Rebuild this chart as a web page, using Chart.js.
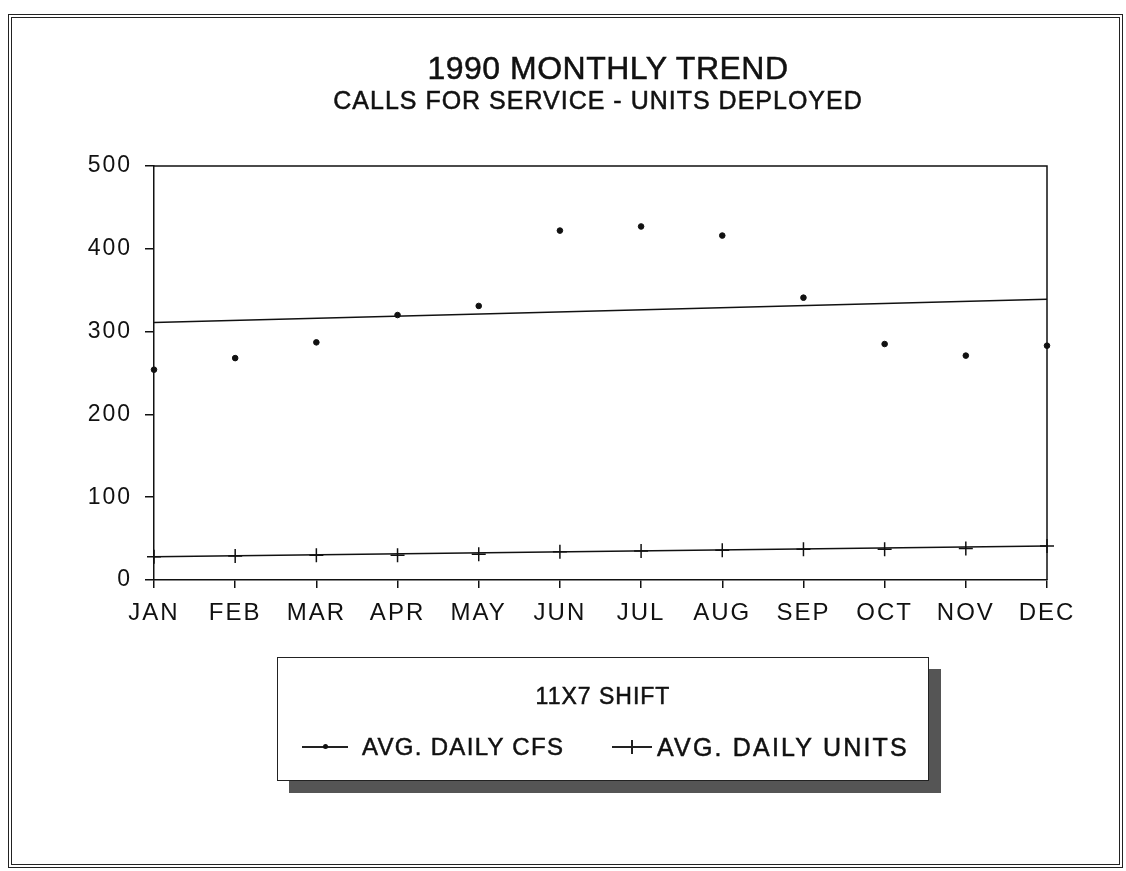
<!DOCTYPE html>
<html>
<head>
<meta charset="utf-8">
<script src="https://cdn.jsdelivr.net/npm/chart.js@4.4.1/dist/chart.umd.min.js"></script>
<style>
  html, body { margin: 0; padding: 0; background: #fff; }
  body { width: 1126px; height: 871px; position: relative; overflow: hidden; font-family: "Liberation Sans", Arial, sans-serif; color: #111; }
  #frame { position: absolute; left: 8px; top: 14px; width: 1107px; height: 846px; border: 4px double #222; }
  #chartWrap { position: absolute; left: 0; top: 0; width: 1126px; height: 871px; }
  .t { position: absolute; white-space: nowrap; -webkit-text-stroke: 0.5px #111; }
  #title { left: 0; width: 1216px; top: 50px; text-align: center; font-size: 32px; letter-spacing: 0.5px; }
  #subtitle { left: 0; width: 1196px; top: 86px; text-align: center; font-size: 25px; letter-spacing: 1px; }
  #legend { position: absolute; left: 277px; top: 657px; width: 650px; height: 122px; border: 1.5px solid #222; background: #fff; box-shadow: 12px 12px 0 #555; }
  #legTitle { left: 0; width: 650px; top: 25px; text-align: center; font-size: 23px; letter-spacing: 1px; }
  .lab { font-size: 24px; letter-spacing: 1.3px; top: 75px; }
  .sw { position: absolute; height: 1.5px; background: #222; top: 88px; }
  .dot { position: absolute; width: 5px; height: 5px; border-radius: 50%; background: #111; top: 86px; }
  .vbar { position: absolute; width: 1.5px; height: 14px; background: #222; top: 82px; }
</style>
</head>
<body>
<div id="frame"></div>
<div id="chartWrap"><canvas id="c" width="1126" height="871"></canvas></div>
<div class="t" id="title">1990 MONTHLY TREND</div>
<div class="t" id="subtitle">CALLS FOR SERVICE - UNITS DEPLOYED</div>
<div id="legend">
  <div class="t" id="legTitle">11X7 SHIFT</div>
  <div class="sw" style="left:24px;width:46px;"></div>
  <div class="dot" style="left:45px;"></div>
  <div class="t lab" style="left:84px;">AVG. DAILY CFS</div>
  <div class="sw" style="left:334px;width:40px;"></div>
  <div class="vbar" style="left:353px;"></div>
  <div class="t lab" style="left:379px;font-size:25px;letter-spacing:2.2px;">AVG. DAILY UNITS</div>
</div>
<script>
const months = ['JAN','FEB','MAR','APR','MAY','JUN','JUL','AUG','SEP','OCT','NOV','DEC'];
const cfsValues = [254, 268, 287, 320, 331, 422, 427, 416, 341, 285, 271, 283];
const cfsTrend = [311, null, null, null, null, null, null, null, null, null, null, 339];
const unitValues = [28, 29, 30, 30, 31, 34, 35, 36, 37, 37, 38, 41];
const unitTrend = [28, null, null, null, null, null, null, null, null, null, null, 41];
const yTicks = [0, 100, 200, 300, 400, 500];

const spacingPlugin = {
  id: 'spacing',
  beforeUpdate(chart) { chart.ctx.letterSpacing = '2px'; },
  beforeDraw(chart) { chart.ctx.letterSpacing = '2px'; }
};
const boxPlugin = {
  id: 'box',
  afterDatasetsDraw(chart) {
    const a = chart.chartArea, ctx = chart.ctx;
    ctx.save();
    ctx.strokeStyle = '#111';
    ctx.lineWidth = 1.5;
    ctx.beginPath();
    ctx.moveTo(a.left, a.top);
    ctx.lineTo(a.right, a.top);
    ctx.lineTo(a.right, a.bottom);
    ctx.stroke();
    ctx.restore();
  }
};

new Chart(document.getElementById('c'), {
  type: 'line',
  data: {
    labels: months,
    datasets: [
      { label: 'AVG. DAILY CFS', data: cfsValues, showLine: false, pointStyle: 'circle', pointRadius: 2.8, pointBackgroundColor: '#111', pointBorderColor: '#111', borderColor: '#111' },
      { label: 'CFS trend', data: cfsTrend, spanGaps: true, pointRadius: 0, borderColor: '#111', borderWidth: 1.5 },
      { label: 'AVG. DAILY UNITS', data: unitValues, showLine: false, pointStyle: 'cross', pointRadius: 7, pointBorderWidth: 1.5, pointBorderColor: '#111', borderColor: '#111' },
      { label: 'Units trend', data: unitTrend, spanGaps: true, pointRadius: 0, borderColor: '#111', borderWidth: 1.5 }
    ]
  },
  options: {
    responsive: false,
    animation: false,
    events: [],
    layout: { padding: { top: 166, right: 79, bottom: 231, left: 0 } },
    plugins: { legend: { display: false }, title: { display: false }, tooltip: { enabled: false } },
    scales: {
      x: {
        type: 'category',
        offset: false,
        grid: { drawOnChartArea: false, drawTicks: true, tickLength: 8, color: '#111', lineWidth: 1.5 },
        border: { color: '#111', width: 1.5 },
        ticks: { color: '#111', font: { family: 'Liberation Sans', size: 24 }, padding: 11, maxRotation: 0, autoSkip: false },
        afterFit(s) { s.height = 60; }
      },
      y: {
        min: 0, max: 500,
        afterBuildTicks(s) { s.ticks = yTicks.map(v => ({ value: v })); },
        grid: { drawOnChartArea: false, drawTicks: true, tickLength: 9, color: '#111', lineWidth: 1.5 },
        border: { color: '#111', width: 1.5 },
        ticks: { color: '#111', font: { family: 'Liberation Sans', size: 23 }, padding: 13 },
        afterFit(s) { s.width = 154; }
      }
    }
  },
  plugins: [spacingPlugin, boxPlugin]
});
</script>
</body>
</html>
